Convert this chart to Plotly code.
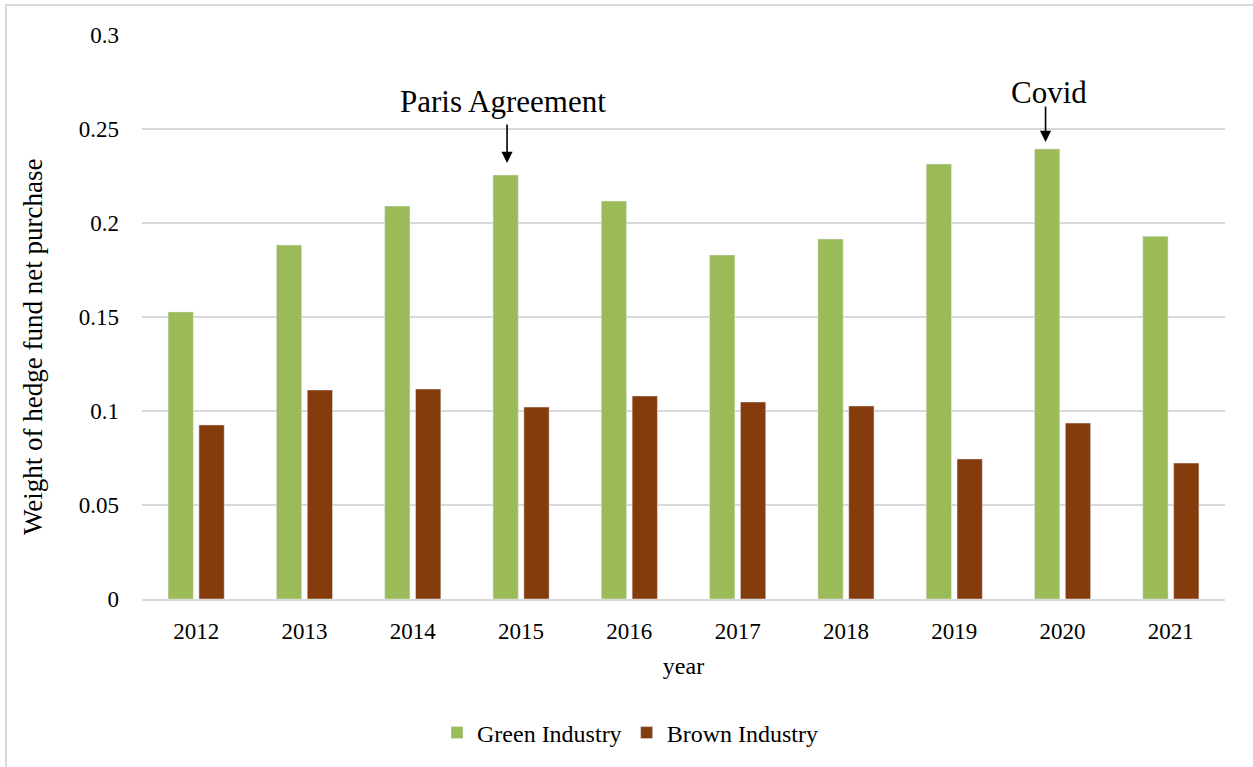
import plotly.graph_objects as go

years = ["2012", "2013", "2014", "2015", "2016", "2017", "2018", "2019", "2020", "2021"]
green = [0.1527, 0.1883, 0.2090, 0.2255, 0.2117, 0.1830, 0.1915, 0.2314, 0.2394, 0.1930]
brown = [0.0926, 0.1112, 0.1117, 0.1021, 0.1080, 0.1048, 0.1027, 0.0745, 0.0936, 0.0723]
ytick_vals = [0, 0.05, 0.1, 0.15, 0.2, 0.25, 0.3]
ytick_text = ["0", "0.05", "0.1", "0.15", "0.2", "0.25", "0.3"]

W, H = 1253, 767
L, R, T, B = 142, 28, 35, 168
PW, PH = W - L - R, H - T - B

def px(x):
    return (x - L) / PW

def py(y):
    return (H - B - y) / PH

FONT = "Liberation Serif, Times New Roman, serif"

fig = go.Figure()
fig.add_trace(go.Bar(x=years, y=green, name="Green Industry", marker_color="#9BBB59"))
fig.add_trace(go.Bar(x=years, y=brown, name="Brown Industry", marker_color="#843C0C"))

fig.update_layout(
    width=W, height=H,
    margin=dict(l=L, r=R, t=T, b=B, autoexpand=False),
    paper_bgcolor="white", plot_bgcolor="white",
    font=dict(family=FONT, size=22, color="#000000"),
    barmode="group", bargap=0.43, bargroupgap=0.18,
    showlegend=True,
    legend=dict(orientation="h", x=px(630), xanchor="center", y=py(733), yanchor="middle",
                font=dict(size=24, family=FONT), itemwidth=30, traceorder="normal"),
    xaxis=dict(type="category", range=[-0.5, len(years) - 0.5], showgrid=False, showline=True,
               linecolor="#d9d9d9", linewidth=1.5,
               ticks="", ticklabelstandoff=11, tickfont=dict(size=23),
               title=dict(text="year", font=dict(size=24), standoff=14)),
    yaxis=dict(range=[0, 0.3], tickvals=ytick_vals, ticktext=ytick_text,
               showgrid=True, gridcolor="#d9d9d9", gridwidth=1.5, zeroline=False,
               showline=False, ticks="", ticklabelstandoff=22, tickfont=dict(size=23)),
)

fig.add_annotation(text="Weight of hedge fund net purchase", xref="paper", yref="paper",
                   x=px(33), y=py(347), textangle=-90, showarrow=False,
                   font=dict(size=27, family=FONT), xanchor="center", yanchor="middle")

# Event annotations
i_paris = years.index("2015")
i_covid = years.index("2020")
fig.add_annotation(text="Paris Agreement", xref="x", yref="paper", x=i_paris, xshift=-18,
                   y=py(101), showarrow=False, font=dict(size=31, family=FONT),
                   xanchor="center", yanchor="middle")
fig.add_annotation(text="", xref="x", yref="paper", x=i_paris, xshift=-14, y=py(163),
                   ax=0, ay=-40, showarrow=True, arrowhead=2, arrowsize=1.4, arrowwidth=1.6,
                   arrowcolor="#000000")
fig.add_annotation(text="Covid", xref="x", yref="paper", x=i_covid, xshift=-14,
                   y=py(92), showarrow=False, font=dict(size=31, family=FONT),
                   xanchor="center", yanchor="middle")
fig.add_annotation(text="", xref="x", yref="paper", x=i_covid, xshift=-17, y=py(142),
                   ax=0, ay=-37, showarrow=True, arrowhead=2, arrowsize=1.4, arrowwidth=1.6,
                   arrowcolor="#000000")

# outer frame
fig.add_shape(type="rect", xref="paper", yref="paper", x0=px(6), x1=px(1262), y0=py(775), y1=py(5),
              line=dict(color="#d9d9d9", width=2), fillcolor="rgba(0,0,0,0)", layer="below")

fig.write_html("out.html", config={"displayModeBar": False},
               post_script="document.body.style.margin='0';document.body.style.padding='0';")
